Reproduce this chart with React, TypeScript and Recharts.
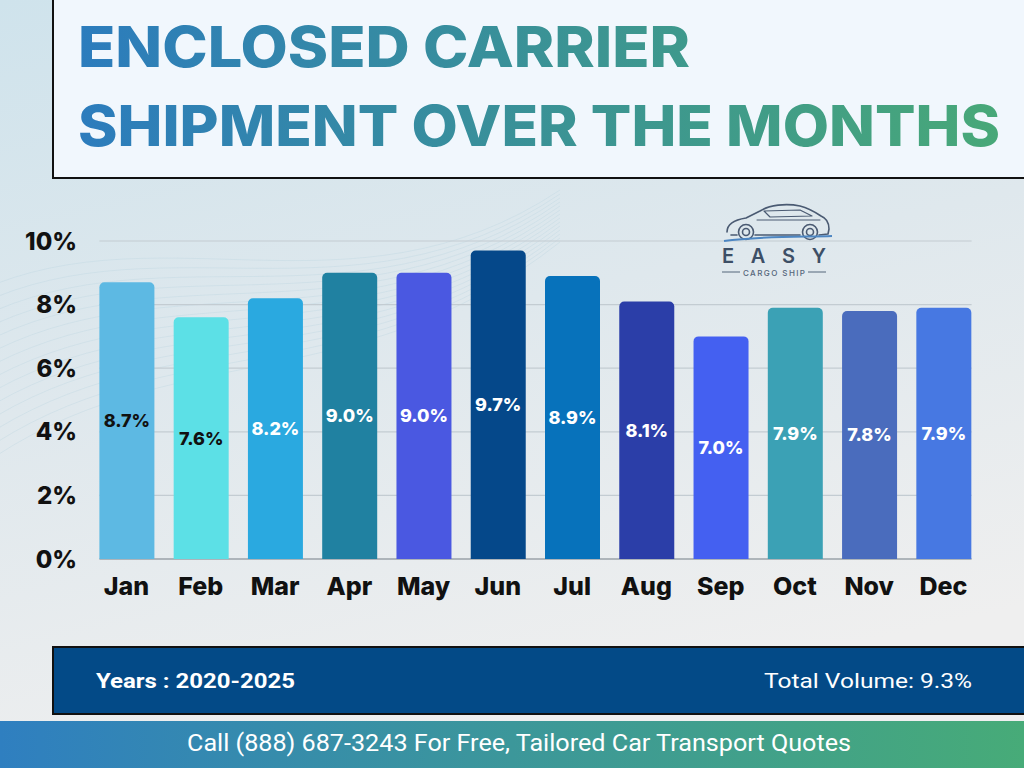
import React from "react";
import { BarChart, Bar, XAxis, YAxis, CartesianGrid, Cell, LabelList } from "recharts";

const months = ["Jan", "Feb", "Mar", "Apr", "May", "Jun", "Jul", "Aug", "Sep", "Oct", "Nov", "Dec"];
const shares = [8.7, 7.6, 8.2, 9.0, 9.0, 9.7, 8.9, 8.1, 7.0, 7.9, 7.8, 7.9];
const yTicks = [0, 2, 4, 6, 8, 10];

const titleLines = ["ENCLOSED CARRIER", "SHIPMENT OVER THE MONTHS"];
const yearsText = "Years : 2020-2025";
const totalText = "Total Volume: 9.3%";
const ctaText = "Call (888) 687-3243 For Free, Tailored Car Transport Quotes";

const barColors = ["#5DB9E3", "#5CE0E6", "#2AA9E0", "#2081A1", "#4A58E1", "#05488A", "#0772BB", "#2B3EA8", "#4460F1", "#3BA1B5", "#4A6CBD", "#4778E2"];
const labelColors = ["#111111", "#111111", "#ffffff", "#ffffff", "#ffffff", "#ffffff", "#ffffff", "#ffffff", "#ffffff", "#ffffff", "#ffffff", "#ffffff"];

const data = months.map((m, i) => ({ month: m, value: shares[i] }));

const FONT = "Inter, 'Open Sans', sans-serif";
const NARROW = "'Liberation Sans Narrow', Roboto, sans-serif";

const gridLine = (props: any) => {
  const { x1, x2, y1, y2, y, height } = props;
  const bottom = Math.abs(y1 - (y + height)) < 1;
  return (
    <line
      key={`g-${y1}`}
      x1={x1 + 10}
      x2={x2 - 9}
      y1={y1}
      y2={y2}
      stroke={bottom ? "#9aa2a8" : "#c3ccd2"}
      strokeWidth={bottom ? 1.5 : 1.2}
    />
  );
};

const renderLabel = (props: any) => {
  const { x, y, width, height, value, index } = props;
  return (
    <text
      x={x + width / 2}
      y={y + height / 2}
      textAnchor="middle"
      dominantBaseline="central"
      fill={labelColors[index] || "#fff"}
      fontSize={18}
      fontWeight={800}
      fontFamily={FONT}
    >
      {`${Number(value).toFixed(1)}%`}
    </text>
  );
};

const waves = Array.from({ length: 14 }, (_, i) => i);

export default function App() {
  return (
    <div style={{ position: "absolute", left: 0, top: 0, width: 1024, height: 768, overflow: "hidden", fontFamily: FONT }}>
      <svg width={1024} height={768} style={{ position: "absolute", left: 0, top: 0 }}>
        <defs>
          <linearGradient id="bg" x1="0" y1="0" x2="0.3" y2="1">
            <stop offset="0" stopColor="#cfe3ec" />
            <stop offset="0.5" stopColor="#dfe8ed" />
            <stop offset="1" stopColor="#efefef" />
          </linearGradient>
          <linearGradient id="ttl" gradientUnits="userSpaceOnUse" x1="78" y1="0" x2="1000" y2="0">
            <stop offset="0" stopColor="#2c7cbd" />
            <stop offset="0.5" stopColor="#3a9296" />
            <stop offset="1" stopColor="#48a878" />
          </linearGradient>
          <linearGradient id="cta" x1="0" y1="0" x2="1" y2="0">
            <stop offset="0" stopColor="#2f7fc0" />
            <stop offset="0.5" stopColor="#3c979a" />
            <stop offset="1" stopColor="#47ab78" />
          </linearGradient>
        </defs>
        <rect x={0} y={0} width={1024} height={768} fill="url(#bg)" />
        {waves.map((i) => (
          <path
            key={i}
            d={`M ${-40} ${300 + i * 14} C ${150} ${200 + i * 10}, ${350} ${330 + i * 6}, ${560} ${190 + i * 4}`}
            fill="none"
            stroke="#b9d3e0"
            strokeOpacity={0.35}
            strokeWidth={1}
          />
        ))}
        <rect x={53} y={-4} width={980} height={182} fill="#f1f7fd" stroke="#111" strokeWidth={2} />
        <text x={78} y={67} fontFamily={FONT} fontWeight={800} fontSize={57} fill="url(#ttl)" textLength={612} lengthAdjust="spacingAndGlyphs">
          {titleLines[0]}
        </text>
        <text x={78} y={146} fontFamily={FONT} fontWeight={800} fontSize={57} fill="url(#ttl)" textLength={922} lengthAdjust="spacingAndGlyphs">
          {titleLines[1]}
        </text>

        <rect x={53} y={647} width={980} height={67} fill="#034A87" stroke="#111" strokeWidth={2} />
        <text x={96} y={688} fontFamily={NARROW} fontWeight={700} fontSize={21} fill="#fff" textLength={199} lengthAdjust="spacingAndGlyphs">
          {yearsText}
        </text>
        <text x={764} y={688} fontFamily={NARROW} fontWeight={400} fontSize={21} fill="#fff" textLength={208} lengthAdjust="spacingAndGlyphs">
          {totalText}
        </text>

        <rect x={0} y={721} width={1024} height={47} fill="url(#cta)" />
        <text x={519} y={751} textAnchor="middle" fontFamily={NARROW} fontWeight={400} fontSize={23} fill="#fff" textLength={664} lengthAdjust="spacingAndGlyphs">
          {ctaText}
        </text>
      </svg>

      <div style={{ position: "absolute", left: 0, top: 190, width: 1024, height: 429 }}>
        <BarChart width={1024} height={429} data={data} margin={{ top: 51, right: 43.4, left: 0, bottom: 0 }} barSize={55}>
          <CartesianGrid vertical={false} horizontal={gridLine} />
          <XAxis
            dataKey="month"
            axisLine={false}
            tickLine={false}
            tickSize={0}
            tickMargin={18}
            height={60}
            interval={0}
            tick={{ fill: "#111", fontSize: 25, fontWeight: 800, fontFamily: FONT }}
          />
          <YAxis
            domain={[0, 10]}
            ticks={yTicks}
            width={89.4}
            axisLine={false}
            tickLine={false}
            tickSize={0}
            tickMargin={12.4}
            tickFormatter={(v: number) => `${v}%`}
            tick={{ fill: "#111", fontSize: 24, fontWeight: 800, fontFamily: FONT }}
          />
          <Bar dataKey="value" radius={[5, 5, 0, 0]} isAnimationActive={false}>
            {data.map((d, i) => (
              <Cell key={d.month} fill={barColors[i]} />
            ))}
            <LabelList dataKey="value" content={renderLabel} />
          </Bar>
        </BarChart>
      </div>

      <svg width={1024} height={768} style={{ position: "absolute", left: 0, top: 0, pointerEvents: "none" }}>
        <g fill="none" stroke="#4a5a72" strokeWidth={1.6} strokeLinejoin="round" strokeLinecap="round">
          <path d="M727 232 C727 225 733 220 746 218 L760 211 C769 205 786 203 800 206 C808 208 815 212 821 216 C826 218 829 223 829 229 L828 234 L819 235" />
          <path d="M731 235 L737 235" />
          <path d="M755 235 L800 235" />
          <circle cx={746} cy={232} r={7.5} />
          <circle cx={746} cy={232} r={3.5} />
          <circle cx={810} cy={232} r={7.5} />
          <circle cx={810} cy={232} r={3.5} />
          <path d="M764 211 L800 210 L812 216 L770 217 Z" strokeWidth={1.2} />
          <path d="M757 220 L820 220" strokeWidth={1} />
        </g>
        <path d="M724 241 C760 236 800 237 832 236" fill="none" stroke="#4d86c2" strokeWidth={2} />
        <text x={774} y={263} textAnchor="middle" fontFamily={FONT} fontWeight={600} fontSize={20} fill="#3d4f66" textLength={104} lengthAdjust="spacing">
          EASY
        </text>
        <line x1={722} x2={740} y1={272} y2={272} stroke="#55667a" strokeWidth={1} />
        <line x1={808} x2={826} y1={272} y2={272} stroke="#55667a" strokeWidth={1} />
        <text x={774} y={276} textAnchor="middle" fontFamily={FONT} fontWeight={500} fontSize={8} fill="#55667a" textLength={62} lengthAdjust="spacing">
          CARGO SHIP
        </text>
      </svg>
    </div>
  );
}
